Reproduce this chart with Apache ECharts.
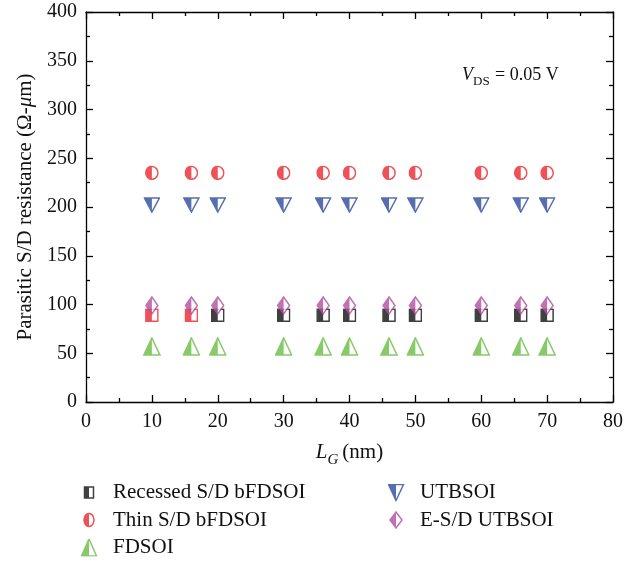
<!DOCTYPE html>
<html>
<head>
<meta charset="utf-8">
<script src="https://cdn.jsdelivr.net/npm/echarts@6/dist/echarts.min.js"></script>
<style>
  html, body { margin: 0; padding: 0; background: #fff; }
  #chart { width: 642px; height: 563px; }
</style>
</head>
<body>
<div id="chart"></div>
<script>
// Gate length (nm)
const lg = [10, 16, 20, 30, 36, 40, 46, 50, 60, 66, 70];

// Parasitic S/D resistance (Ω-μm) for each device
const recessedSD = [89, 89, 89, 89, 89, 89, 89, 89, 89, 89, 89];
const thinSD     = [235, 235, 235, 235, 235, 235, 235, 235, 235, 235, 235];
const fdsoi      = [57, 57, 57, 57, 57, 57, 57, 57, 57, 57, 57];
const utbsoi     = [202, 202, 202, 202, 202, 202, 202, 202, 202, 202, 202];
const esdUtbsoi  = [99, 99, 99, 99, 99, 99, 99, 99, 99, 99, 99];

const leftLegend = ['Recessed S/D bFDSOI', 'Thin S/D bFDSOI', 'FDSOI'];
const rightLegend = ['UTBSOI', 'E-S/D UTBSOI'];

const RED = '#ea272d', BLUE = '#2d4b9d', PURPLE = '#b24f9f', GREEN = '#6bbd45', BLACK = '#111111';

// Half-filled glyph (left half solid, right half white) on a W x H canvas,
// shape given in that canvas' coordinates
function glyph(W, H, outline, half, color) {
  const svg = '<svg xmlns="http://www.w3.org/2000/svg" width="' + W + '" height="' + H +
    '" viewBox="0 0 ' + W + ' ' + H + '">' +
    '<path d="' + outline + '" fill="#ffffff"/>' +
    '<path d="' + half + '" fill="' + color + '"/>' +
    '<path d="' + outline + '" fill="none" stroke="' + color + '" stroke-width="1.5"/>' +
    '</svg>';
  return 'image://data:image/svg+xml;charset=utf-8,' + encodeURIComponent(svg);
}

// shape builders: box (x0,y0)-(x1,y1)
const shapes = {
  square: (x0, y0, x1, y1) => {
    const m = (x0 + x1) / 2;
    return [`M${x0},${y0} L${x1},${y0} L${x1},${y1} L${x0},${y1} Z`, `M${x0},${y0} L${m},${y0} L${m},${y1} L${x0},${y1} Z`];
  },
  circle: (x0, y0, x1, y1) => {
    const cx = (x0 + x1) / 2, rx = (x1 - x0) / 2, ry = (y1 - y0) / 2;
    return [`M${cx},${y0} A${rx},${ry} 0 1 1 ${cx - 0.01},${y0} Z`, `M${cx},${y0} A${rx},${ry} 0 0 0 ${cx},${y1} Z`];
  },
  triUp: (x0, y0, x1, y1) => {
    const m = (x0 + x1) / 2;
    return [`M${x0},${y1} L${x1},${y1} L${m},${y0} Z`, `M${x0},${y1} L${m},${y1} L${m},${y0} Z`];
  },
  triDown: (x0, y0, x1, y1) => {
    const m = (x0 + x1) / 2;
    return [`M${x0},${y0} L${x1},${y0} L${m},${y1} Z`, `M${x0},${y0} L${m},${y0} L${m},${y1} Z`];
  },
  diamond: (x0, y0, x1, y1) => {
    const m = (x0 + x1) / 2, c = (y0 + y1) / 2;
    return [`M${m},${y0} L${x1},${c} L${m},${y1} L${x0},${c} Z`, `M${m},${y0} L${m},${y1} L${x0},${c} Z`];
  }
};

// marker of w x h pixels drawn with a 1px margin
function marker(kind, w, h, color) {
  const [o, f] = shapes[kind](1, 1, w - 1, h - 1);
  return glyph(w, h, o, f, color);
}

// legend key: shape of w x h centred at x = 8 in a KEY_W x KEY_H box,
// the blank remainder spaces the label away from the key
const KEY_W = 27, KEY_H = 18;
function key(kind, w, h, color) {
  const x0 = 8 - w / 2, y0 = (KEY_H - h) / 2;
  const [o, f] = shapes[kind](x0, y0, x0 + w, y0 + h);
  return glyph(KEY_W, KEY_H, o, f, color);
}

const style = {
  'Recessed S/D bFDSOI': { kind: 'square', size: [14, 14], key: [9, 11], color: BLACK, z: 2 },
  'Thin S/D bFDSOI':     { kind: 'circle', size: [14, 15], key: [10, 13], color: RED, z: 3 },
  'FDSOI':               { kind: 'triUp', size: [18, 19], key: [15, 17], color: GREEN, z: 3 },
  'UTBSOI':              { kind: 'triDown', size: [17, 16], key: [15, 16], color: BLUE, z: 3 },
  'E-S/D UTBSOI':        { kind: 'diamond', size: [14, 19], key: [12, 16], color: PURPLE, z: 4 }
};

const pairs = ys => lg.map((x, i) => [x, ys[i]]);

const FONT = 'Liberation Serif';
const INK = '#111';

function frameAxis(extra) {
  return Object.assign({
    axisLine: { show: true, onZero: false, lineStyle: { color: '#000', width: 1.3 } },
    axisTick: { show: true, inside: true, length: 7, lineStyle: { color: '#000', width: 1.3 } },
    minorTick: { show: true, splitNumber: 2, length: 4, lineStyle: { color: '#000', width: 1.3 } },
    splitLine: { show: false },
    axisLabel: { show: false }
  }, extra);
}

function legendBlock(names, left) {
  return {
    orient: 'vertical', left: left, top: 482, height: 90, padding: 0,
    itemWidth: KEY_W, itemHeight: KEY_H, itemGap: 6.5,
    textStyle: { fontFamily: FONT, fontSize: 21, color: INK },
    data: names.map(n => {
      const s = style[n];
      return { name: n, icon: key(s.kind, s.key[0], s.key[1], s.color) };
    })
  };
}

function scatter(name, ys, symbol) {
  const s = style[name];
  return {
    name: name, type: 'scatter', data: pairs(ys),
    symbol: symbol || marker(s.kind, s.size[0], s.size[1], s.color),
    symbolSize: s.size, itemStyle: { color: s.color }, z: s.z
  };
}

const squareBlack = marker('square', 14, 14, BLACK);
const squareRed = marker('square', 14, 14, RED);

const chart = echarts.init(document.getElementById('chart'), null, { renderer: 'canvas' });

chart.setOption({
  animation: false,
  backgroundColor: '#fff',
  textStyle: { fontFamily: FONT },
  grid: { left: 86, right: 29, top: 12, bottom: 161, containLabel: false },
  xAxis: [
    frameAxis({
      type: 'value', min: 0, max: 80, interval: 10, position: 'bottom',
      axisLabel: { show: true, color: INK, fontFamily: FONT, fontSize: 20, margin: 10 },
      name: '{i|L}{s|G}{n|(nm)}',
      nameLocation: 'middle', nameGap: 37,
      nameTextStyle: {
        rich: {
          i: { fontFamily: FONT, fontStyle: 'italic', fontSize: 21, color: INK, lineHeight: 24, verticalAlign: 'bottom' },
          s: { fontFamily: FONT, fontStyle: 'italic', fontSize: 15, color: INK, lineHeight: 24, verticalAlign: 'bottom', padding: [0, 4, -5, 0] },
          n: { fontFamily: FONT, fontSize: 21, color: INK, lineHeight: 24, verticalAlign: 'bottom' }
        }
      }
    }),
    frameAxis({ type: 'value', min: 0, max: 80, interval: 10, position: 'top' })
  ],
  yAxis: [
    frameAxis({
      type: 'value', min: 0, max: 400, interval: 50, position: 'left',
      axisLabel: { show: true, color: INK, fontFamily: FONT, fontSize: 20, margin: 9 },
      name: '{n|Parasitic S/D resistance (Ω-}{i|μ}{n|m)}',
      nameLocation: 'middle', nameGap: 48, nameRotate: 90,
      nameTextStyle: {
        rich: {
          n: { fontFamily: FONT, fontSize: 21, color: INK },
          i: { fontFamily: FONT, fontStyle: 'italic', fontSize: 21, color: INK }
        }
      }
    }),
    frameAxis({ type: 'value', min: 0, max: 400, interval: 50, position: 'right' })
  ],
  legend: [legendBlock(leftLegend, 81), legendBlock(rightLegend, 388)],
  graphic: [
    {
      type: 'text', left: 462, top: 66,
      style: {
        text: '{v|V}{s|DS}{n| = 0.05 V}',
        rich: {
          v: { fontFamily: FONT, fontStyle: 'italic', fontSize: 18, fill: INK, lineHeight: 22, verticalAlign: 'bottom' },
          s: { fontFamily: FONT, fontSize: 13, fill: INK, lineHeight: 22, verticalAlign: 'bottom', padding: [0, 1, -4, 0] },
          n: { fontFamily: FONT, fontSize: 18, fill: INK, lineHeight: 22, verticalAlign: 'bottom' }
        }
      }
    }
  ],
  series: [
    // the two shortest gate lengths of the recessed device are plotted in red
    scatter('Recessed S/D bFDSOI', recessedSD, (val) => val[0] <= 16 ? squareRed : squareBlack),
    scatter('Thin S/D bFDSOI', thinSD),
    scatter('FDSOI', fdsoi),
    scatter('UTBSOI', utbsoi),
    scatter('E-S/D UTBSOI', esdUtbsoi)
  ]
});
</script>
</body>
</html>
